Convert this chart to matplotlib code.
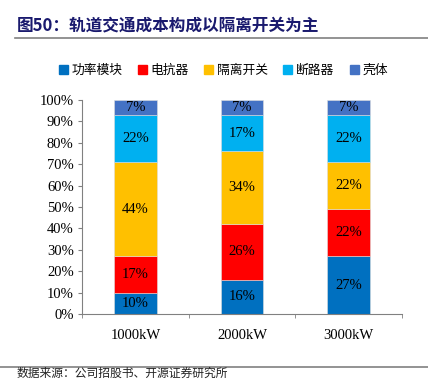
import numpy as np
import matplotlib
matplotlib.use("Agg")
import matplotlib.pyplot as plt
from matplotlib.lines import Line2D

plt.rcParams['font.family'] = ['Liberation Serif', 'Noto Sans CJK SC']

categories = ['1000kW', '2000kW', '3000kW']
series_names = ['功率模块', '电抗器', '隔离开关', '断路器', '壳体']
power_module = [10, 16, 27]
reactor = [17, 26, 22]
isolator = [44, 34, 22]
breaker = [22, 17, 22]
shell = [7, 7, 7]
colors = ['#0070C0', '#FF0000', '#FFC000', '#00B0F0', '#4472C4']

W, H = 428, 381
fig = plt.figure(figsize=(W / 100, H / 100), dpi=100)
ax = fig.add_axes([82 / W, 1 - 314 / H, 320 / W, 214 / H])

x = np.arange(len(categories))
bottom = np.zeros(len(categories))
for name, vals, c in zip(series_names, [power_module, reactor, isolator, breaker, shell], colors):
    vals = np.array(vals, dtype=float)
    ax.bar(x, vals, 0.4, bottom=bottom, color=c, label=name,
           edgecolor='#dddddd', linewidth=0.4)
    for xi, b, v in zip(x, bottom, vals):
        ax.text(xi, b + v / 2, f'{int(v)}%', ha='center', va='center',
                fontsize=10.5, color='black', family='Liberation Serif')
    bottom += vals

ax.set_xlim(-0.5, 2.5)
ax.set_ylim(0, 100)
ax.set_yticks(np.arange(0, 101, 10))
ax.set_yticklabels([f'{v}%' for v in range(0, 101, 10)], fontsize=10.5)
ax.set_xticks(x)
ax.set_xticklabels(categories, fontsize=10.5)
ax.set_xticks([-0.5, 0.5, 1.5, 2.5], minor=True)
ax.tick_params(axis='x', which='major', length=0, pad=11)
ax.tick_params(axis='x', which='minor', length=3, color='#808080')
ax.tick_params(axis='y', length=3, color='#808080', pad=3)
for s in ['top', 'right']:
    ax.spines[s].set_visible(False)
for s in ['left', 'bottom']:
    ax.spines[s].set_color('#808080')

handles = [plt.Rectangle((0, 0), 1, 1, color=c) for c in colors]
fig.legend(handles, series_names, loc='center', bbox_to_anchor=(0.522, 1 - 70 / H),
           ncol=5, frameon=False, handlelength=0.7, handleheight=0.7,
           handletextpad=0.3, columnspacing=1.2,
           prop={'family': ['Noto Sans CJK SC'], 'size': 9.2})

fig.text(17 / W, 1 - 25 / H, '图50：轨道交通成本构成以隔离开关为主', fontsize=12,
         fontweight='bold', color='#1A1A6E', va='center', family=['Noto Sans CJK SC'])
fig.add_artist(Line2D([15 / W, 1], [1 - 38 / H, 1 - 38 / H], color='#808080', lw=1.2))
fig.add_artist(Line2D([0, 1], [1 - 367 / H, 1 - 367 / H], color='#808080', lw=1.2))
fig.text(17 / W, 1 / H, '数据来源：公司招股书、开源证券研究所', fontsize=8.5,
         va='bottom', family=['Noto Sans CJK SC'], color='#222222')

fig.savefig('out.png', dpi=100)
